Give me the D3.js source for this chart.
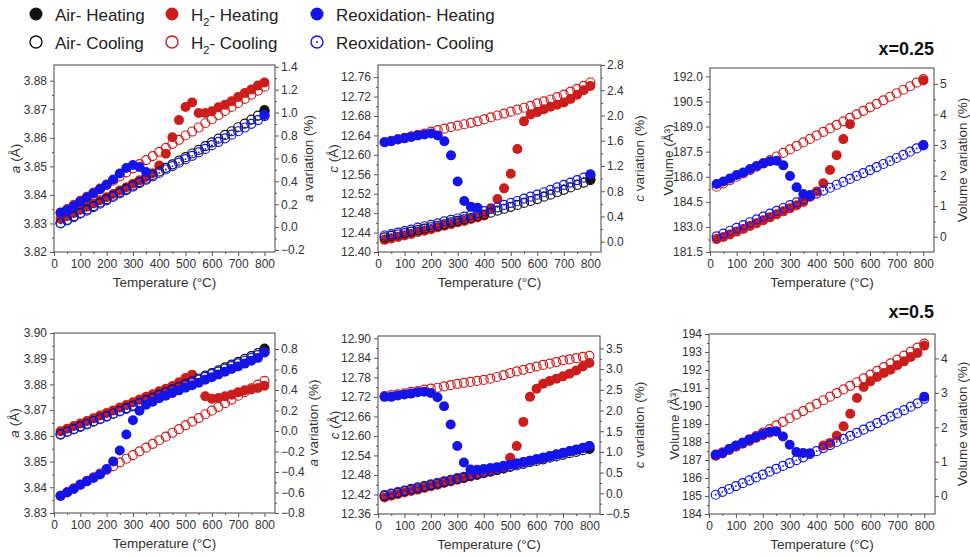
<!DOCTYPE html>
<html>
<head>
<meta charset="utf-8">
<style>
  body { margin: 0; background: #fff; }
  svg text { font-family: "Liberation Sans", Arial, sans-serif; }
</style>
<script src="https://cdn.jsdelivr.net/npm/d3@7"></script>
</head>
<body>
<svg id="chart" width="970" height="557"></svg>
<script>
const _ = null;

// temperatures of every measurement (°C), shared by all panels
const temps = [25,50,75,100,125,150,175,200,225,250,275,300,325,350,375,400,
               425,450,475,500,525,550,575,600,625,650,675,700,725,750,775,800];
const xTicks = [0,100,200,300,400,500,600,700,800];

// ---------- x=0.25 : a (Å) ----------
const airHeatA25 = [_,_,_,_,_,_,_,_,_,_,_,_,_,_,_,_,_,_,_,_,_,_,_,_,_,_,_,_,_,_,_,3.8697];
const airCoolA25 = [3.8302,3.8313,3.8325,3.8337,3.8349,3.8361,3.8373,3.8385,3.8397,3.8409,3.8421,3.8433,3.8445,3.8457,3.8470,3.8482,
                    3.8495,3.8507,3.8520,3.8532,3.8545,3.8558,3.8571,3.8584,3.8597,3.8610,3.8623,3.8637,3.8650,3.8664,3.8678,3.8692];
const redHeatA25 = [3.8316,3.8326,3.8337,3.8348,3.8359,3.8370,3.8381,3.8392,3.8403,3.8415,3.8427,3.8439,3.8451,3.8463,3.8476,3.8503,
                    3.8544,3.8602,3.8662,3.8708,3.8724,3.8687,3.8687,3.8693,3.8707,3.8716,3.8728,3.8743,3.8757,3.8769,3.8783,3.8794];
const redCoolA25 = [3.8336,3.8350,3.8365,3.8379,3.8393,3.8408,3.8422,3.8436,3.8450,3.8465,3.8479,3.8493,3.8508,3.8522,3.8536,3.8551,
                    3.8565,3.8579,3.8593,3.8608,3.8622,3.8636,3.8651,3.8665,3.8679,3.8694,3.8708,3.8722,3.8736,3.8751,3.8765,3.8779];
const blueHeatA25 = [3.8338,3.8347,3.8361,3.8376,3.8391,3.8406,3.8420,3.8435,3.8454,3.8475,3.8494,3.8505,3.8498,3.8480,_,_,
                     _,_,_,_,_,_,_,_,_,_,_,_,_,_,_,3.8680];
const blueCoolA25 = [3.8300,3.8311,3.8322,3.8334,3.8345,3.8357,3.8369,3.8381,3.8393,3.8405,3.8417,3.8429,3.8441,3.8453,3.8465,3.8477,
                     3.8489,3.8501,3.8513,3.8525,3.8537,3.8549,3.8561,3.8574,3.8586,3.8598,3.8611,3.8623,3.8636,3.8649,3.8662,3.8676];
const yTicksA25 = [3.82,3.83,3.84,3.85,3.86,3.87,3.88];
const rTicksA25 = [-0.2,0,0.2,0.4,0.6,0.8,1.0,1.2,1.4];

// ---------- x=0.25 : c (Å) ----------
const airHeatC25 = [_,_,_,_,_,_,_,_,_,_,_,_,_,_,_,_,_,_,_,_,_,_,_,_,_,_,_,_,_,_,_,12.550];
const airCoolC25 = [12.430,12.433,12.436,12.439,12.442,12.445,12.448,12.451,12.454,12.457,12.461,12.464,12.467,12.470,12.474,12.477,
                    12.481,12.485,12.489,12.493,12.497,12.501,12.505,12.509,12.514,12.518,12.523,12.528,12.533,12.538,12.543,12.548];
const redHeatC25 = [12.425,12.428,12.431,12.434,12.437,12.441,12.444,12.447,12.451,12.454,12.457,12.461,12.464,12.468,12.471,12.475,
                    12.490,12.509,12.531,12.561,12.612,12.669,12.683,12.688,12.694,12.699,12.703,12.708,12.715,12.724,12.733,12.742];
const redCoolC25 = [12.626,12.629,12.632,12.635,12.638,12.641,12.644,12.648,12.651,12.654,12.657,12.660,12.663,12.666,12.669,12.673,
                    12.677,12.681,12.685,12.689,12.693,12.697,12.701,12.706,12.710,12.714,12.719,12.724,12.730,12.736,12.742,12.749];
const blueHeatC25 = [12.626,12.628,12.632,12.634,12.637,12.640,12.642,12.644,12.640,12.628,12.599,12.545,12.505,12.493,12.491,_,
                     _,_,_,_,_,_,_,_,_,_,_,_,_,_,_,12.560];
const blueCoolC25 = [12.434,12.437,12.440,12.443,12.446,12.450,12.453,12.456,12.459,12.463,12.466,12.469,12.473,12.476,12.480,12.484,
                     12.488,12.492,12.497,12.501,12.505,12.510,12.514,12.518,12.523,12.528,12.533,12.538,12.543,12.548,12.553,12.558];
const yTicksC25 = [12.40,12.44,12.48,12.52,12.56,12.60,12.64,12.68,12.72,12.76];
const rTicksC25 = [0,0.4,0.8,1.2,1.6,2.0,2.4,2.8];

// ---------- x=0.25 : Volume (Å³) ----------
const redHeatV25 = [182.27,182.40,182.55,182.72,182.88,183.05,183.22,183.40,183.57,183.75,183.93,184.11,184.30,184.49,184.80,185.11,
                    185.61,186.40,187.29,188.25,189.14,_,_,_,_,_,_,_,_,_,_,191.76];
const redCoolV25 = [185.40,185.60,185.80,186.00,186.20,186.40,186.60,186.80,187.00,187.21,187.42,187.63,187.84,188.05,188.26,188.47,
                    188.68,188.89,189.10,189.31,189.52,189.73,189.94,190.15,190.36,190.57,190.78,190.99,191.20,191.41,191.62,191.83];
const blueHeatV25 = [185.57,185.71,185.90,186.10,186.26,186.46,186.64,186.80,186.92,186.96,186.68,186.04,185.37,184.97,184.91,_,
                     _,_,_,_,_,_,_,_,_,_,_,_,_,_,_,187.89];
const blueCoolV25 = [182.43,182.60,182.77,182.94,183.11,183.28,183.45,183.62,183.79,183.96,184.13,184.30,184.47,184.64,184.82,184.99,
                     185.17,185.34,185.52,185.69,185.87,186.05,186.22,186.40,186.58,186.76,186.94,187.12,187.31,187.50,187.69,187.88];
const yTicksV25 = [181.5,183.0,184.5,186.0,187.5,189.0,190.5,192.0];
const rTicksV25 = [0,1,2,3,4,5];

// ---------- x=0.5 : a (Å) ----------
const airHeatA50 = [_,_,_,_,_,_,_,_,_,_,_,_,_,_,_,_,_,_,_,_,_,_,_,_,_,_,_,_,_,_,_,3.8940];
const airCoolA50 = [3.8607,3.8617,3.8627,3.8637,3.8647,3.8657,3.8667,3.8677,3.8687,3.8697,3.8708,3.8718,3.8728,3.8739,3.8749,3.8760,
                    3.8770,3.8781,3.8791,3.8802,3.8812,3.8823,3.8834,3.8844,3.8855,3.8866,3.8877,3.8888,3.8899,3.8910,3.8922,3.8934];
const redHeatA50 = [3.8618,3.8628,3.8638,3.8648,3.8658,3.8668,3.8679,3.8689,3.8699,3.8710,3.8720,3.8731,3.8741,3.8752,3.8762,3.8773,
                    3.8783,3.8794,3.8808,3.8825,3.8838,_,3.8754,3.8744,3.8747,3.8754,3.8760,3.8770,3.8777,3.8780,3.8786,3.8795];
const redCoolA50 = [3.8367,3.8381,3.8396,3.8410,3.8425,3.8439,3.8453,3.8468,3.8482,3.8497,3.8511,3.8525,3.8540,3.8554,3.8569,3.8583,
                    3.8597,3.8612,3.8626,3.8641,3.8655,3.8669,3.8684,3.8698,3.8713,3.8727,3.8741,3.8756,3.8770,3.8785,3.8799,3.8814];
const blueHeatA50 = [3.8367,3.8380,3.8393,3.8410,3.8423,3.8436,3.8450,3.8471,3.8500,3.8543,3.8605,3.8661,3.8698,3.8721,3.8733,3.8746,
                     3.8756,3.8767,3.8777,3.8787,3.8797,3.8807,3.8818,3.8828,3.8839,3.8849,3.8860,3.8870,3.8881,3.8892,3.8903,3.8925];
const blueCoolA50 = [3.8605,3.8615,3.8625,3.8635,3.8645,3.8655,3.8665,3.8675,3.8685,3.8695,3.8705,3.8715,3.8726,3.8736,3.8746,3.8757,
                     3.8767,3.8777,3.8788,3.8798,3.8808,3.8819,3.8829,3.8840,3.8850,3.8861,3.8871,3.8882,3.8892,3.8903,3.8914,3.8925];
const yTicksA50 = [3.83,3.84,3.85,3.86,3.87,3.88,3.89,3.90];
const rTicksA50 = [-0.8,-0.6,-0.4,-0.2,0,0.2,0.4,0.6,0.8];

// ---------- x=0.5 : c (Å) ----------
const airHeatC50 = [_,_,_,_,_,_,_,_,_,_,_,_,_,_,_,_,_,_,_,_,_,_,_,_,_,_,_,_,_,_,_,12.561];
const airCoolC50 = [12.416,12.421,12.425,12.430,12.435,12.439,12.444,12.449,12.453,12.458,12.463,12.467,12.472,12.477,12.481,12.486,
                    12.491,12.495,12.500,12.505,12.509,12.514,12.519,12.523,12.528,12.533,12.537,12.542,12.547,12.551,12.556,12.560];
const redHeatC50 = [12.411,12.416,12.421,12.426,12.431,12.435,12.440,12.445,12.450,12.455,12.460,12.465,12.470,12.475,12.480,12.485,
                    12.490,12.495,12.500,12.533,12.569,12.643,12.720,12.745,12.760,12.769,12.776,12.783,12.791,12.801,12.813,12.824];
const redCoolC50 = [12.722,12.725,12.728,12.731,12.735,12.738,12.742,12.745,12.748,12.752,12.756,12.760,12.763,12.766,12.769,12.772,
                    12.776,12.781,12.787,12.793,12.798,12.803,12.808,12.813,12.818,12.822,12.827,12.832,12.835,12.839,12.843,12.846];
const blueHeatC50 = [12.720,12.720,12.724,12.727,12.730,12.734,12.736,12.732,12.719,12.691,12.635,12.569,12.518,12.497,12.496,12.498,
                     12.501,12.504,12.508,12.512,12.516,12.520,12.524,12.528,12.532,12.537,12.542,12.547,12.552,12.557,12.562,12.569];
const blueCoolC50 = [12.418,12.423,12.427,12.432,12.437,12.442,12.446,12.451,12.456,12.460,12.465,12.470,12.474,12.479,12.484,12.489,
                     12.494,12.499,12.503,12.508,12.513,12.518,12.523,12.528,12.533,12.538,12.543,12.548,12.553,12.558,12.563,12.569];
const yTicksC50 = [12.36,12.42,12.48,12.54,12.60,12.66,12.72,12.78,12.84,12.90];
const rTicksC50 = [-0.5,0,0.5,1.0,1.5,2.0,2.5,3.0,3.5];

// ---------- x=0.5 : Volume (Å³) ----------
const redHeatV50 = [187.24,187.36,187.55,187.74,187.90,188.06,188.22,188.38,188.52,188.60,_,_,_,_,_,_,
                    187.80,187.95,188.35,188.87,189.57,190.44,191.06,191.37,191.61,191.83,192.02,192.26,192.48,192.72,192.94,193.35];
const redCoolV50 = [187.25,187.43,187.61,187.79,187.97,188.15,188.33,188.52,188.72,188.92,189.12,189.32,189.52,189.72,189.92,190.12,
                    190.32,190.52,190.72,190.92,191.12,191.32,191.53,191.74,191.95,192.16,192.37,192.58,192.80,193.02,193.24,193.46];
const blueHeatV50 = [187.30,187.39,187.61,187.81,187.94,188.13,188.28,188.44,188.57,188.59,188.31,187.85,187.44,187.39,187.38,_,
                     _,_,_,_,_,_,_,_,_,_,_,_,_,_,_,190.52];
const blueCoolV50 = [185.07,185.23,185.39,185.55,185.71,185.87,186.03,186.19,186.35,186.51,186.67,186.83,186.99,187.15,187.32,187.49,
                     187.66,187.83,188.00,188.17,188.34,188.51,188.69,188.87,189.05,189.23,189.41,189.59,189.77,189.96,190.15,190.40];
const yTicksV50 = [184,185,186,187,188,189,190,191,192,193,194];
const rTicksV50 = [0,1,2,3,4];

const colors = { air: "#111111", red: "#cc1d1d", blue: "#1414e8" };

// panel options built from the arrays above
const panels = [
  { box: [54, 275, 65, 252], yDomain: [3.82, 3.8855], rDomain: [-0.217, 1.415],
    yTicks: yTicksA25, rTicks: rTicksA25, yFmt: ".2f", rFmt: ".1f", ltX: 15, rtX: 308,
    yTitle: [["a", true], [" (Å)", false]], rTitle: [["a", true], [" variation (%)", false]],
    airH: airHeatA25, airC: airCoolA25, redH: redHeatA25, redC: redCoolA25, blueH: blueHeatA25, blueC: blueCoolA25 },
  { box: [378, 601, 65, 252], yDomain: [12.40, 12.785], rDomain: [-0.163, 2.8],
    yTicks: yTicksC25, rTicks: rTicksC25, yFmt: ".2f", rFmt: ".1f", ltX: 333, rtX: 639,
    yTitle: [["c", true], [" (Å)", false]], rTitle: [["c", true], [" variation (%)", false]],
    airH: airHeatC25, airC: airCoolC25, redH: redHeatC25, redC: redCoolC25, blueH: blueHeatC25, blueC: blueCoolC25 },
  { box: [710, 934, 68, 252], yDomain: [181.5, 192.5], rDomain: [-0.5, 5.52],
    yTicks: yTicksV25, rTicks: rTicksV25, yFmt: ".1f", rFmt: "d", ltX: 668, rtX: 962,
    yTitle: [["Volume (Å³)", false]], rTitle: [["Volume variation (%)", false]], tag: "x=0.25", tagY: 55,
    redH: redHeatV25, redC: redCoolV25, blueH: blueHeatV25, blueC: blueCoolV25 },
  { box: [54, 275, 333, 513], yDomain: [3.83, 3.90], rDomain: [-0.8, 0.956],
    yTicks: yTicksA50, rTicks: rTicksA50, yFmt: ".2f", rFmt: ".1f", ltX: 14, rtX: 313,
    yTitle: [["a", true], [" (Å)", false]], rTitle: [["a", true], [" variation (%)", false]],
    airH: airHeatA50, airC: airCoolA50, redH: redHeatA50, redC: redCoolA50, blueH: blueHeatA50, blueC: blueCoolA50 },
  { box: [378, 600, 336, 514], yDomain: [12.36, 12.907], rDomain: [-0.5, 3.8],
    yTicks: yTicksC50, rTicks: rTicksC50, yFmt: ".2f", rFmt: ".1f", ltX: 334, rtX: 639,
    yTitle: [["c", true], [" (Å)", false]], rTitle: [["c", true], [" variation (%)", false]],
    airH: airHeatC50, airC: airCoolC50, redH: redHeatC50, redC: redCoolC50, blueH: blueHeatC50, blueC: blueCoolC50 },
  { box: [709, 935, 334, 514], yDomain: [184, 194], rDomain: [-0.52, 4.71],
    yTicks: yTicksV50, rTicks: rTicksV50, yFmt: "d", rFmt: "d", ltX: 674, rtX: 962,
    yTitle: [["Volume (Å³)", false]], rTitle: [["Volume variation (%)", false]], tag: "x=0.5", tagY: 318,
    redH: redHeatV50, redC: redCoolV50, blueH: blueHeatV50, blueC: blueCoolV50 }
];

const svg = d3.select("#chart");
svg.append("rect").attr("width", 970).attr("height", 557).attr("fill", "#fff");

const mids = t => t.slice(1).map((v, i) => (v + t[i]) / 2);

function styleAxis(sel) {
  sel.select(".domain").remove();
  sel.selectAll("line").attr("stroke", "#555").attr("stroke-width", 1);
  sel.selectAll("text").attr("font-size", 12).attr("fill", "#333")
    .attr("font-family", "'Liberation Sans', Arial, sans-serif");
}

function titleText(g, x, y, parts) {
  const t = g.append("text")
    .attr("transform", `translate(${x},${y}) rotate(-90)`)
    .attr("text-anchor", "middle").attr("dy", "0.35em")
    .attr("font-size", 13.5).attr("fill", "#333");
  parts.forEach(([s, it]) => t.append("tspan").attr("font-style", it ? "italic" : "normal").text(s));
}

function drawPanel(p) {
  const [l, r, t, b] = p.box;
  const g = svg.append("g");
  const x = d3.scaleLinear().domain([0, 840]).range([l, r]);
  const y = d3.scaleLinear().domain(p.yDomain).range([b, t]);
  const yr = d3.scaleLinear().domain(p.rDomain).range([b, t]);

  // minor ticks
  g.append("g").attr("transform", `translate(0,${b})`)
    .call(d3.axisBottom(x).tickValues(mids(xTicks)).tickSize(2).tickFormat("")).call(styleAxis);
  g.append("g").attr("transform", `translate(${l},0)`)
    .call(d3.axisLeft(y).tickValues(mids(p.yTicks)).tickSize(2).tickFormat("")).call(styleAxis);
  g.append("g").attr("transform", `translate(${r},0)`)
    .call(d3.axisRight(yr).tickValues(mids(p.rTicks)).tickSize(2).tickFormat("")).call(styleAxis);

  // major ticks
  g.append("g").attr("transform", `translate(0,${b})`)
    .call(d3.axisBottom(x).tickValues(xTicks).tickSize(4).tickPadding(3).tickFormat(d3.format("d"))).call(styleAxis);
  g.append("g").attr("transform", `translate(${l},0)`)
    .call(d3.axisLeft(y).tickValues(p.yTicks).tickSize(4).tickPadding(3).tickFormat(d3.format(p.yFmt))).call(styleAxis);
  g.append("g").attr("transform", `translate(${r},0)`)
    .call(d3.axisRight(yr).tickValues(p.rTicks).tickSize(4).tickPadding(2).tickFormat(d3.format(p.rFmt))).call(styleAxis);

  g.append("rect").attr("x", l).attr("y", t).attr("width", r - l).attr("height", b - t)
    .attr("fill", "none").attr("stroke", "#555").attr("stroke-width", 1.1);

  const ptsOf = vals => temps.map((tt, i) => [tt, vals[i]]).filter(d => d[1] != null);
  const filled = (vals, col) => {
    if (!vals) return;
    g.append("g").selectAll("circle").data(ptsOf(vals)).join("circle")
      .attr("cx", d => x(d[0])).attr("cy", d => y(d[1])).attr("r", 5).attr("fill", col);
  };

  // H2 heating sits under the open rings, air and reoxidation heating on top
  filled(p.redH, colors.red);
  const rings = [[p.airC, colors.air, false], [p.redC, colors.red, false], [p.blueC, colors.blue, true]];
  rings.forEach(([vals, col, dot]) => {
    if (!vals) return;
    const pts = ptsOf(vals);
    g.append("g").selectAll("circle").data(pts).join("circle")
      .attr("cx", d => x(d[0])).attr("cy", d => y(d[1])).attr("r", 4.5)
      .attr("fill", "none").attr("stroke", col).attr("stroke-width", 1.2);
    if (dot) {
      g.append("g").selectAll("circle").data(pts).join("circle")
        .attr("cx", d => x(d[0])).attr("cy", d => y(d[1])).attr("r", 0.9).attr("fill", col);
    }
  });
  filled(p.airH, colors.air);
  filled(p.blueH, colors.blue);

  // titles
  g.append("text").attr("x", (l + r) / 2).attr("y", b + 35).attr("text-anchor", "middle")
    .attr("font-size", 13.5).attr("fill", "#333").text("Temperature (°C)");
  titleText(g, p.ltX, (t + b) / 2, p.yTitle);
  titleText(g, p.rtX, (t + b) / 2, p.rTitle);
  if (p.tag) {
    g.append("text").attr("x", 934).attr("y", p.tagY).attr("text-anchor", "end")
      .attr("font-size", 18).attr("font-weight", "bold").attr("fill", "#111").text(p.tag);
  }
}

panels.forEach(drawPanel);

// legend
const legendNames = ["Air- ", "H", "Reoxidation- "];
const legendRows = [["Heating", 14, 20.5, true], ["Cooling", 42, 49, false]];
const legendCols = [[36, colors.air, false], [172, colors.red, true], [317, colors.blue, false]];
const lg = svg.append("g");
legendRows.forEach(([word, cy, by, filled]) => {
  legendCols.forEach(([cx, col, sub], i) => {
    const c = lg.append("circle").attr("cx", cx).attr("cy", cy).attr("r", filled ? 6.5 : 6);
    if (filled) c.attr("fill", col);
    else c.attr("fill", "none").attr("stroke", col).attr("stroke-width", 1.4);
    if (!filled && i === 2) lg.append("circle").attr("cx", cx).attr("cy", cy).attr("r", 1).attr("fill", col);
    const tx = lg.append("text").attr("x", cx + 19).attr("y", by).attr("font-size", 17).attr("fill", "#222");
    if (sub) {
      tx.append("tspan").text("H");
      tx.append("tspan").attr("font-size", 11).attr("dy", 5).text("2");
      tx.append("tspan").attr("dy", -5).text("- " + word);
    } else {
      tx.text(legendNames[i] + word);
    }
  });
});
</script>
</body>
</html>
